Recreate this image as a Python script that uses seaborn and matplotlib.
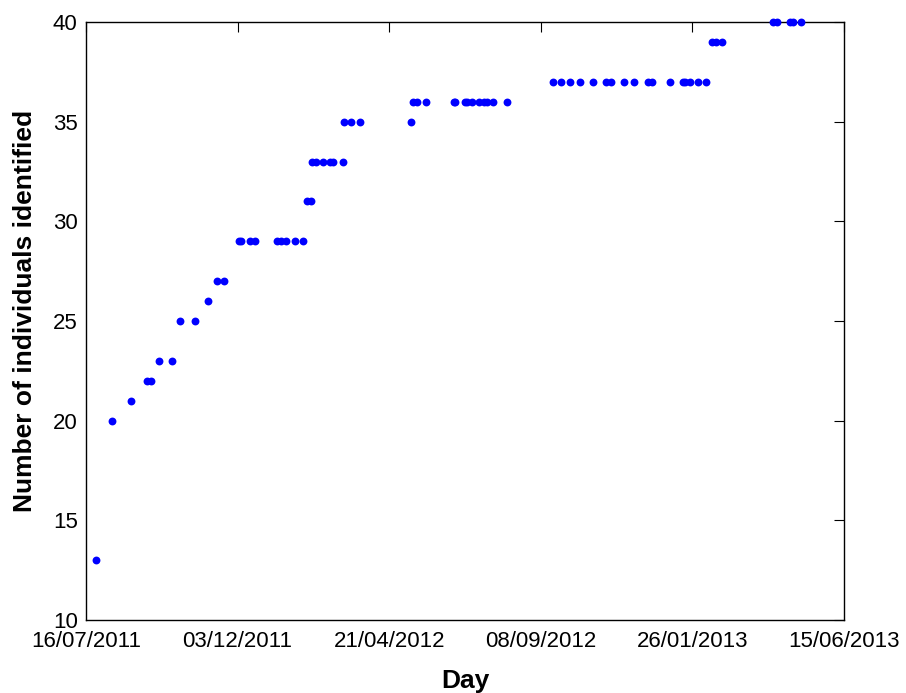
import matplotlib
matplotlib.use("Agg")
import matplotlib.pyplot as plt
import matplotlib.dates as mdates
import seaborn as sns
import pandas as pd

# sampling days and cumulative number of individuals identified
days = [
    "2011-07-25", "2011-08-09", "2011-08-27", "2011-09-10", "2011-09-14",
    "2011-09-21", "2011-10-03", "2011-10-11", "2011-10-25", "2011-11-06",
    "2011-11-14", "2011-11-20", "2011-12-04", "2011-12-06", "2011-12-14",
    "2011-12-19", "2012-01-08", "2012-01-12", "2012-01-17", "2012-01-25",
    "2012-02-01", "2012-02-05", "2012-02-09", "2012-02-10", "2012-02-13",
    "2012-02-20", "2012-02-26", "2012-02-29", "2012-03-09", "2012-03-10",
    "2012-03-17", "2012-03-25", "2012-05-11", "2012-05-13", "2012-05-17",
    "2012-05-25", "2012-06-20", "2012-06-21", "2012-06-30", "2012-07-02",
    "2012-07-06", "2012-07-13", "2012-07-18", "2012-07-20", "2012-07-26",
    "2012-08-08", "2012-09-19", "2012-09-27", "2012-10-05", "2012-10-14",
    "2012-10-26", "2012-11-07", "2012-11-12", "2012-11-24", "2012-12-03",
    "2012-12-16", "2012-12-20", "2013-01-05", "2013-01-17", "2013-01-19",
    "2013-01-24", "2013-01-31", "2013-02-08", "2013-02-13", "2013-02-17",
    "2013-02-22", "2013-04-10", "2013-04-14", "2013-04-26", "2013-04-29",
    "2013-05-06",
]
individuals = [
    13, 20, 21, 22, 22,
    23, 23, 25, 25, 26,
    27, 27, 29, 29, 29,
    29, 29, 29, 29, 29,
    29, 31, 31, 33, 33,
    33, 33, 33, 33, 35,
    35, 35, 35, 36, 36,
    36, 36, 36, 36, 36,
    36, 36, 36, 36, 36,
    36, 37, 37, 37, 37,
    37, 37, 37, 37, 37,
    37, 37, 37, 37, 37,
    37, 37, 37, 39, 39,
    39, 40, 40, 40, 40,
    40,
]
tick_days = ["2011-07-16", "2011-12-03", "2012-04-21",
             "2012-09-08", "2013-01-26", "2013-06-15"]

df = pd.DataFrame({"Day": pd.to_datetime(days), "Individuals": individuals})

sns.set_style("white")
plt.rcParams["font.family"] = ["Liberation Sans", "DejaVu Sans"]
plt.rcParams["text.color"] = "black"
plt.rcParams["axes.labelcolor"] = "black"

fig = plt.figure(figsize=(9.06, 6.93), dpi=100)
ax = fig.add_axes([0.0949, 0.1053, 0.8367, 0.863])

sns.scatterplot(data=df, x="Day", y="Individuals", ax=ax,
                color="#0000ff", s=32, linewidth=0, zorder=3, clip_on=False)

ticks = pd.to_datetime(tick_days)
ax.set_xlim(ticks[0], ticks[-1])
ax.set_xticks(ticks)
ax.xaxis.set_major_formatter(mdates.DateFormatter("%d/%m/%Y"))
ax.set_ylim(10, 40)
ax.set_yticks(range(10, 41, 5))

ax.tick_params(direction="in", length=7, width=0.8, labelsize=16,
               top=True, right=True, colors="black", labelcolor="black")
ax.tick_params(axis="x", pad=8)
ax.tick_params(axis="y", pad=6)
for sp in ax.spines.values():
    sp.set_visible(True)
    sp.set_color("black")
    sp.set_linewidth(1.0)

ax.set_xlabel("Day", fontsize=19, fontweight="bold", labelpad=12)
ax.set_ylabel("Number of individuals identified", fontsize=19,
              fontweight="bold")
ax.yaxis.set_label_coords(-0.064, 0.517)

fig.savefig("out.png", dpi=100)
